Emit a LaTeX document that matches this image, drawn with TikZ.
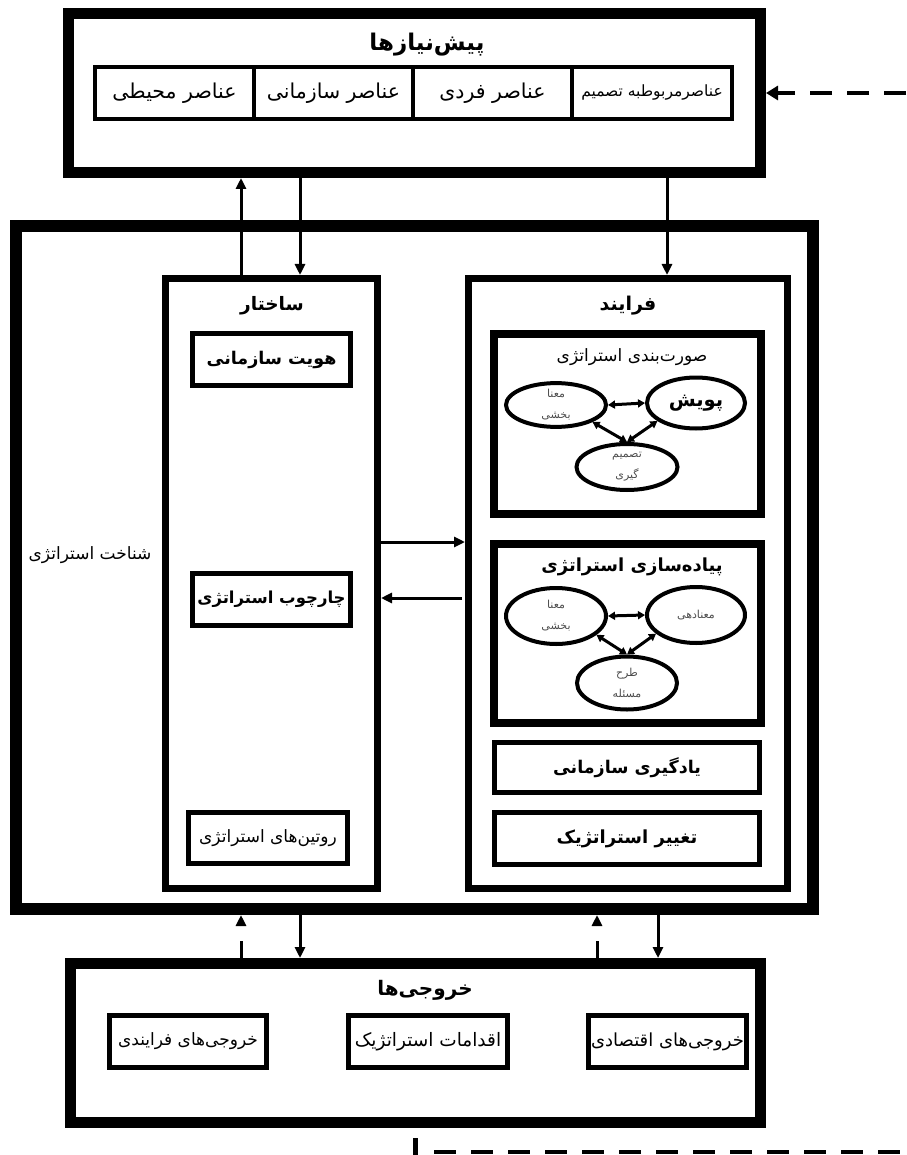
\documentclass[tikz,border=0pt]{standalone}
\usepackage{fontspec}
\newfontfamily\farsifont[Script=Arabic]{DejaVu Sans}
\TeXXeTstate=1
\usetikzlibrary{arrows.meta,shapes.geometric}
\newcommand\rl[1]{\beginR#1\endR}
\begin{document}
\begin{tikzpicture}[x=1pt,y=-1pt,
  heavy/.style={draw, rectangle, line width=#1, inner sep=0pt},
  mid/.style={draw, rectangle, line width=5pt, inner sep=0pt, minimum height=52pt},
  cell/.style={draw, rectangle, line width=4pt, inner sep=0pt, minimum height=52pt},
  ell/.style={draw, ellipse, line width=4pt, inner sep=0pt},
  fa/.style={font=\farsifont\fontsize{#1}{#1}\selectfont, inner sep=0pt},
  fab/.style={font=\farsifont\bfseries\fontsize{#1}{#1}\selectfont, inner sep=0pt},
  small/.style={font=\farsifont\fontsize{11}{21}\selectfont, text=black!70, align=center},
  conn/.style={line width=3pt, -{Triangle[length=11pt,width=10pt]}},
  dconn/.style={conn, dash pattern=on 17pt off 15pt},
  elink/.style={line width=3pt, {Triangle[length=7pt,width=8pt]}-{Triangle[length=7pt,width=8pt]}},
  fbline/.style={line width=4pt, dash pattern=on 22pt off 15pt}
]
\useasboundingbox (0,0) rectangle (906,1155);

% x positions of the vertical connectors, y positions of the horizontal ones
\coordinate (xa) at (241,0);
\coordinate (xb) at (300,0);
\coordinate (xc) at (667,0);
\coordinate (xd) at (597,0);
\coordinate (xe) at (658,0);
\coordinate (ya) at (0,542);
\coordinate (yb) at (0,598);

% prerequisites
\node[heavy=11pt, minimum width=692pt, minimum height=159pt] (pre) at (414.5,93) {};
\node[fab=23] (preT) at (427,45) {\rl{پیش‌نیازها}};
\node[cell, minimum width=159pt, fa=20.5] (c1) at (174.5,93) {\rl{عناصر محیطی}};
\node[cell, minimum width=159pt, fa=20.5] (c2) at (333.5,93) {\rl{عناصر سازمانی}};
\node[cell, minimum width=159pt, fa=20.5] (c3) at (492.5,93) {\rl{عناصر فردی}};
\node[cell, minimum width=160pt, fa=15.5] (c4) at (652,93) {\rl{عناصرمربوطبه تصمیم}};

% strategy cognition frame
\node[heavy=12pt, minimum width=797pt, minimum height=683pt] (main) at (414.5,567.5) {};
\node[fa=17] (mainT) at (90,555) {\rl{شناخت استراتژی}};

% structure
\node[heavy=7pt, minimum width=212pt, minimum height=610pt] (str) at (271.5,583.5) {};
\node[fab=18.5] (strT) at (272,306) {\rl{ساختار}};
\node[mid, minimum width=158pt, fab=17.5] (hov) at (271.5,359.5) {\rl{هویت سازمانی}};
\node[mid, minimum width=158pt, fab=16.5] (frm) at (271.5,599.5) {\rl{چارچوب استراتژی}};
\node[mid, minimum width=159pt, minimum height=51pt, fa=17] (rut) at (268,838) {\rl{روتین‌های استراتژی}};

% process
\node[heavy=7pt, minimum width=319pt, minimum height=610pt] (proc) at (628,583.5) {};
\node[fab=19] (procT) at (628,306) {\rl{فرایند}};

% strategy formulation
\node[heavy=8pt, minimum width=267pt, minimum height=180pt] (form) at (627.5,424) {};
\node[fa=17] (formT) at (632,357) {\rl{صورت‌بندی استراتژی}};
\node[ell, minimum width=100pt, minimum height=40pt, small] (f1) at (556,405) {\rl{معنا}\\\rl{بخشی}};
\node[ell, minimum width=98pt, minimum height=51pt, fab=19.5] (f2) at (696,403) {\rl{پویش}};
\node[ell, minimum width=101pt, minimum height=46pt, small] (f3) at (627,467) {\rl{تصمیم}\\\rl{گیری}};
\draw[elink] (f1.east) -- (f2.west);
\draw[elink] (f1.-25) -- (f3.north);
\draw[elink] (f2.205) -- (f3.north);

% strategy implementation
\node[heavy=8pt, minimum width=267pt, minimum height=179pt] (impl) at (627.5,633.5) {};
\node[fab=18] (implT) at (632,567) {\rl{پیاده‌سازی استراتژی}};
\node[ell, minimum width=100pt, minimum height=56pt, small] (g1) at (556,616) {\rl{معنا}\\\rl{بخشی}};
\node[ell, minimum width=98pt, minimum height=56pt, small] (g2) at (696,615) {\rl{معنادهی}};
\node[ell, minimum width=100pt, minimum height=53pt, small] (g3) at (627,683) {\rl{طرح}\\\rl{مسئله}};
\draw[elink] (g1.east) -- (g2.west);
\draw[elink] (g1.-25) -- (g3.north);
\draw[elink] (g2.205) -- (g3.north);

\node[mid, minimum width=265pt, minimum height=50pt, fab=17.5] (learn) at (627,767.5) {\rl{یادگیری سازمانی}};
\node[mid, minimum width=265pt, minimum height=52pt, fab=18] (chg) at (627,838.5) {\rl{تغییر استراتژیک}};

% outputs
\node[heavy=11pt, minimum width=690pt, minimum height=159pt] (out) at (415.5,1043) {};
\node[fab=20] (outT) at (425,990) {\rl{خروجی‌ها}};
\node[mid, minimum width=157pt, fa=17] (o1) at (188,1041.5) {\rl{خروجی‌های فرایندی}};
\node[mid, minimum width=159pt, fa=18.5] (o2) at (428,1041.5) {\rl{اقدامات استراتژیک}};
\node[mid, minimum width=158pt, fa=18] (o3) at (667.5,1041.5) {\rl{خروجی‌های اقتصادی}};

% connectors between the blocks
\draw[conn] (str.north -| xa) -- (pre.south -| xa);
\draw[conn] (pre.south -| xb) -- (str.north -| xb);
\draw[conn] (pre.south -| xc) -- (proc.north -| xc);
\draw[conn] (str.east |- ya) -- (proc.west |- ya);
\draw[conn, shorten <=3pt] (proc.west |- yb) -- (str.east |- yb);
\draw[dconn] (out.north -| xa) -- (main.south -| xa);
\draw[conn] (main.south -| xb) -- (out.north -| xb);
\draw[dconn] (out.north -| xd) -- (main.south -| xd);
\draw[conn] (main.south -| xe) -- (out.north -| xe);

% feedback loop
\coordinate (fbin) at (906,93);
\draw[fbline, -{Triangle[length=12pt,width=14pt]}] (fbin) -- (pre.east);
\coordinate (fb0) at (415,1138);
\coordinate (fb1) at (415,1155);
\coordinate (fb2) at (434,1152);
\coordinate (fb3) at (906,1152);
\draw[line width=5pt] (fb0) -- (fb1);
\draw[fbline] (fb2) -- (fb3);
\end{tikzpicture}
\end{document}
